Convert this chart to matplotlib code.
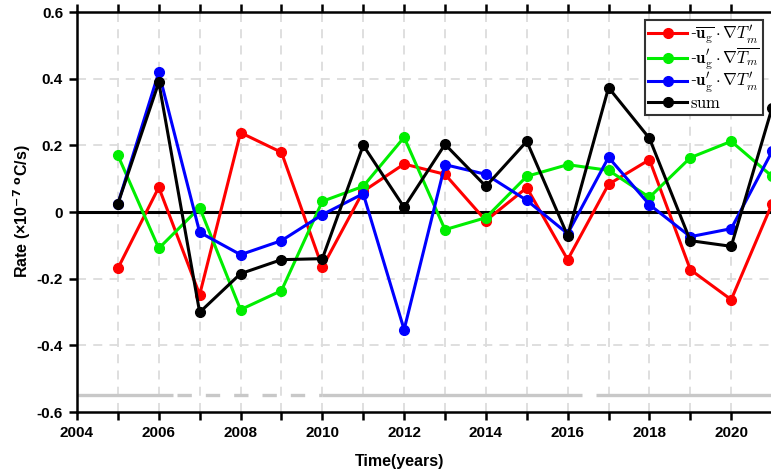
import matplotlib
matplotlib.use("Agg")
import matplotlib.pyplot as plt
from matplotlib.font_manager import FontProperties
import numpy as np

plt.rcParams['axes.unicode_minus'] = False
plt.rcParams['font.family'] = ['Liberation Sans', 'DejaVu Sans']

years = list(range(2005, 2022))
red_vals = [-0.169, 0.074, -0.248, 0.238, 0.179, -0.166, 0.062, 0.144, 0.113, -0.026,
            0.073, -0.143, 0.083, 0.157, -0.173, -0.263, 0.025]
green_vals = [0.170, -0.109, 0.013, -0.293, -0.236, 0.032, 0.077, 0.224, -0.053, -0.017,
              0.107, 0.142, 0.125, 0.044, 0.163, 0.212, 0.107]
blue_vals = [0.025, 0.419, -0.061, -0.128, -0.086, -0.008, 0.055, -0.353, 0.142, 0.113,
             0.035, -0.065, 0.164, 0.022, -0.074, -0.050, 0.182]
sum_vals = [0.025, 0.389, -0.301, -0.185, -0.143, -0.140, 0.200, 0.014, 0.203, 0.077,
            0.212, -0.071, 0.373, 0.221, -0.086, -0.103, 0.313]

labels = [r'-$\overline{\mathbf{u}_{\mathrm{g}}}\cdot\nabla T_m^{\prime}$',
          r'-$\mathbf{u}_{\mathrm{g}}^{\prime}\cdot\nabla\overline{T_m}$',
          r'-$\mathbf{u}_{\mathrm{g}}^{\prime}\cdot\nabla T_m^{\prime}$',
          r'$\mathrm{sum}$']
colors = ['#ff0000', '#00ee00', '#0000ff', '#000000']

# gray indicator line near the bottom
indicator_y = -0.55
indicator_solid = [(2004, 2006.35), (2010, 2016.35), (2016.7, 2022)]
indicator_dashed = [(2006.45, 2010)]

yticks = [-0.6, -0.4, -0.2, 0, 0.2, 0.4, 0.6]
ytick_labels = ['-0.6', '-0.4', '-0.2', '0', '0.2', '0.4', '0.6']

fig = plt.figure(figsize=(7.71, 4.75), dpi=100)
ax = fig.add_axes([77/771, 63/475, 736/771, 400/475])
ax.set_xlim(2004, 2022)
ax.set_ylim(-0.6, 0.6)

# grid
for yr in range(2005, 2022):
    ax.axvline(yr, color='#dcdcdc', lw=1.3, ls=(0, (5, 4)), zorder=0)
for yv in [-0.4, -0.2, 0.2, 0.4]:
    ax.axhline(yv, color='#dcdcdc', lw=1.3, ls=(0, (5, 4)), zorder=0)

for a, b in indicator_solid:
    ax.plot([a, b], [indicator_y, indicator_y], color='#c8c8c8', lw=2.4, solid_capstyle='butt', zorder=1)
for a, b in indicator_dashed:
    ax.plot([a, b], [indicator_y, indicator_y], color='#c8c8c8', lw=2.4,
            ls=(0, (4.3, 4.2)), dash_capstyle='butt', zorder=1)

ax.axhline(0, color='black', lw=2.2, zorder=2)

for vals, c, lab in zip([red_vals, green_vals, blue_vals, sum_vals], colors, labels):
    ax.plot(years, vals, color=c, lw=2.2, marker='o', ms=7, label=lab, zorder=3, clip_on=False)

ax.set_xticks(range(2004, 2022))
ax.set_xticklabels([str(y) if y % 2 == 0 else '' for y in range(2004, 2022)])
ax.set_yticks(yticks)
ax.set_yticklabels(ytick_labels)
ax.tick_params(direction='out', length=6, width=1.8, labelsize=11, top=True, right=False,
               pad=4)
for lab in ax.get_xticklabels() + ax.get_yticklabels():
    lab.set_fontweight('bold')
for side in ['left', 'top', 'bottom']:
    ax.spines[side].set_linewidth(1.8)
ax.spines['right'].set_visible(False)

ax.set_xlabel('Time(years)', fontsize=11.5, fontweight='bold')
ax.xaxis.set_label_coords((400 - 77) / 736, -0.105)
fig.text(22/771, 1 - 211/475, r'Rate (×10$^{\mathbf{-7}}$ $^{\mathbf{o}}$C/s)', rotation=90,
         ha='center', va='center', fontsize=11.5, fontweight='bold',
         math_fontfamily='dejavusans')

leg = ax.legend(loc='upper left', bbox_to_anchor=(645/771, 1 - 20/475),
                bbox_transform=fig.transFigure,
                prop=FontProperties(family='DejaVu Serif', size=12, math_fontfamily='cm'),
                frameon=True, fancybox=False, edgecolor='#333333', framealpha=1,
                handlelength=2.3, handletextpad=0.2, borderpad=0.2, labelspacing=-0.05,
                borderaxespad=0)
leg.get_frame().set_linewidth(1.5)

fig.savefig('out.png', dpi=100)
